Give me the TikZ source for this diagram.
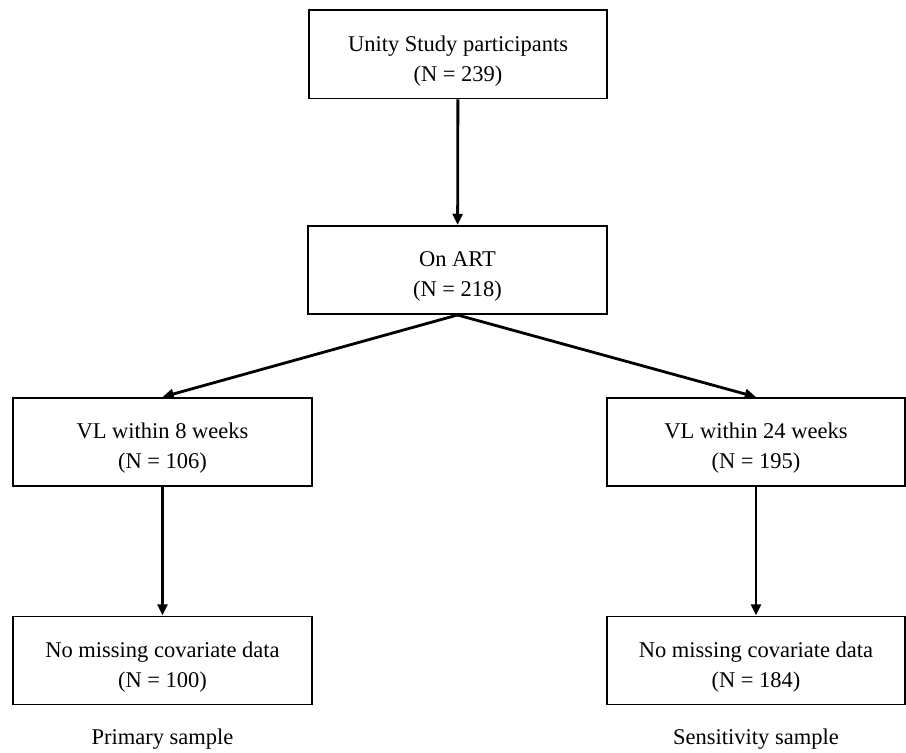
\documentclass[tikz,border=0pt]{standalone}
\usepackage{fontspec}
\setmainfont{Liberation Serif}
\usepackage{tikz}
\usetikzlibrary{positioning,arrows.meta}

\begin{document}
\begin{tikzpicture}[x=0.025cm,y=-0.025cm,
    font=\fontsize{16}{21.3}\selectfont,
    flowbox/.style={draw,line width=1.4pt,minimum width=7.45cm,minimum height=2.2cm,align=center,inner sep=2pt,
      text height=41.5pt},
    flowarrow/.style={line width=2pt,-{Triangle[length=8pt,width=7pt]}}]
  \useasboundingbox (0,0) rectangle (906,753);
  \node[flowbox] (study) at (458,54.5) {Unity Study participants\\(N = 239)};
  \node[flowbox] (art) at (457.5,270) {On ART\\(N = 218)};
  \node[flowbox] (vl8) at (162.5,442) {VL within 8 weeks\\(N = 106)};
  \node[flowbox] (vl24) at (756,442) {VL within 24 weeks\\(N = 195)};
  \node[flowbox] (prim) at (162.5,660.5) {No missing covariate data\\(N = 100)};
  \node[flowbox] (sens) at (756,660.5) {No missing covariate data\\(N = 184)};
  \node (primlab) at (162.5,739) {Primary sample};
  \node (senslab) at (756,739) {Sensitivity sample};
  \draw[flowarrow] (study) -- (art);
  \draw[flowarrow] (art.south) -- (vl8.north);
  \draw[flowarrow] (art.south) -- (vl24.north);
  \draw[flowarrow] (vl8) -- (prim);
  \draw[flowarrow] (vl24) -- (sens);
\end{tikzpicture}
\end{document}
